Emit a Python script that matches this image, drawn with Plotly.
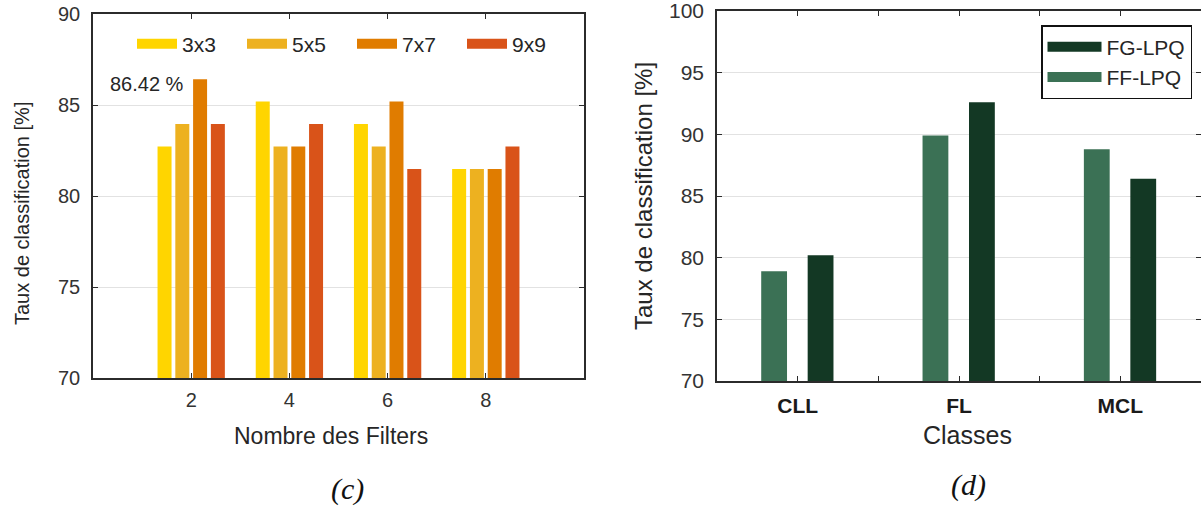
import plotly.graph_objects as go

# ---- data -------------------------------------------------------------
filters = [2, 4, 6, 8]
kernel_names = ["3x3", "5x5", "7x7", "9x9"]
rate_3x3 = [82.72, 85.19, 83.95, 81.48]
rate_5x5 = [83.95, 82.72, 82.72, 81.48]
rate_7x7 = [86.42, 82.72, 85.19, 81.48]
rate_9x9 = [83.95, 83.95, 81.48, 82.72]
best_rate = 86.42

classes = ["CLL", "FL", "MCL"]
class_pos = [1, 2, 3]
rate_ff_lpq = [78.9, 89.9, 88.8]
rate_fg_lpq = [80.2, 92.6, 86.4]

# ---- styling ----------------------------------------------------------
W, H = 1201, 506
FONT = "Liberation Sans"
TXT = "#262626"
AX = "#2b2b2b"
GRID = "#e2e2e2"
kernel_colors = ["#FFD500", "#EDB120", "#E07C00", "#D95319"]
ff_color = "#3B7155"
fg_color = "#133824"

fig = go.Figure()

# left panel: grouped bars placed with explicit offsets
left_series = [rate_3x3, rate_5x5, rate_7x7, rate_9x9]
pitch, bw = 0.362, 0.285
for i, (name, vals, col) in enumerate(zip(kernel_names, left_series, kernel_colors)):
    fig.add_trace(go.Bar(
        x=filters, y=vals, name=name, marker=dict(color=col, line=dict(width=0)),
        width=bw, offset=(i - 1.5) * pitch - bw / 2,
        xaxis="x", yaxis="y", showlegend=False,
    ))
    # legend entry drawn as a thick line swatch
    fig.add_trace(go.Scatter(
        x=[None], y=[None], mode="lines", name=name,
        line=dict(color=col, width=10),
        xaxis="x", yaxis="y", legend="legend",
    ))

# right panel: two bars per class
bw2 = 0.16
fig.add_trace(go.Bar(
    x=class_pos, y=rate_ff_lpq, name="FF-LPQ", marker=dict(color=ff_color, line=dict(width=0)),
    width=bw2, offset=-0.146 - bw2 / 2, xaxis="x2", yaxis="y2", showlegend=False,
))
fig.add_trace(go.Bar(
    x=class_pos, y=rate_fg_lpq, name="FG-LPQ", marker=dict(color=fg_color, line=dict(width=0)),
    width=bw2, offset=0.142 - bw2 / 2, xaxis="x2", yaxis="y2", showlegend=False,
))
for name, col, grp in [("FG-LPQ", fg_color, "a"), ("FF-LPQ", ff_color, "b")]:
    fig.add_trace(go.Scatter(
        x=[None], y=[None], mode="lines", name=name, legendgroup=grp,
        line=dict(color=col, width=12),
        xaxis="x2", yaxis="y2", legend="legend2",
    ))

axis_common = dict(
    showline=True, linecolor=AX, linewidth=1.5, mirror="ticks",
    ticks="inside", ticklen=5, tickcolor=AX, tickwidth=1,
    tickfont=dict(family=FONT, size=20, color="#333333"),
    zeroline=False, automargin=False, ticklabeloverflow="allow",
)

fig.update_layout(
    width=W, height=H, margin=dict(l=0, r=0, t=0, b=0),
    paper_bgcolor="white", plot_bgcolor="white",
    barmode="overlay",
    font=dict(family=FONT, color=TXT),
    xaxis=dict(domain=[93 / W, 584 / W], range=[0, 10], tickvals=filters,
               showgrid=False, anchor="y", ticklabelstandoff=3, **axis_common),
    yaxis=dict(domain=[(H - 378) / H, (H - 14) / H], range=[70, 90],
               tickvals=[70, 75, 80, 85, 90], showgrid=True, gridcolor=GRID, gridwidth=1,
               anchor="x", ticklabelstandoff=7, **axis_common),
    xaxis2=dict(domain=[717 / W, 1.0], range=[0.5, 3.5],
                tickvals=[0.5, 1, 1.5, 2, 2.5, 3, 3.5],
                ticktext=["", "<b>CLL</b>", "", "<b>FL</b>", "", "<b>MCL</b>", ""],
                showgrid=False, anchor="y2", ticklabelstandoff=5,
                **{**axis_common, "tickfont": dict(family=FONT, size=21, color="#1a1a1a")}),
    yaxis2=dict(domain=[(H - 381) / H, (H - 11) / H], range=[70, 100],
                tickvals=[70, 75, 80, 85, 90, 95, 100], showgrid=True, gridcolor=GRID,
                gridwidth=1, anchor="x2", ticklabelstandoff=7,
                **{**axis_common, "tickfont": dict(family=FONT, size=21, color="#333333")}),
    legend=dict(orientation="h", x=132 / W, y=1 - 44 / H, xanchor="left", yanchor="middle",
                bgcolor="rgba(0,0,0,0)", borderwidth=0,
                font=dict(family=FONT, size=21, color=TXT),
                entrywidth=55, entrywidthmode="pixels", itemwidth=40),
    legend2=dict(x=1041 / W, y=1 - 25 / H, xanchor="left", yanchor="top",
                 bgcolor="white", bordercolor="#111111", borderwidth=1.5,
                 font=dict(family=FONT, size=21, color=TXT),
                 tracegroupgap=0, itemwidth=54),
)

center = dict(xanchor="center", yanchor="middle", showarrow=False)
annotations = [
    # value label for the best configuration
    dict(x=2, y=best_rate, xref="x", yref="y", text=f"{best_rate:.2f} %",
         xanchor="right", yanchor="top", xshift=-5, yshift=8, showarrow=False,
         font=dict(family=FONT, size=20, color=TXT)),
    # axis titles
    dict(x=22 / W, y=1 - 214 / H, xref="paper", yref="paper",
         text="Taux de classification [%]", textangle=-90,
         font=dict(family=FONT, size=20, color=TXT), **center),
    dict(x=331 / W, y=1 - 436 / H, xref="paper", yref="paper",
         text="Nombre des Filters",
         font=dict(family=FONT, size=23, color=TXT), **center),
    dict(x=643 / W, y=1 - 196 / H, xref="paper", yref="paper",
         text="Taux de classification [%]", textangle=-90,
         font=dict(family=FONT, size=24, color=TXT), **center),
    dict(x=967 / W, y=1 - 435 / H, xref="paper", yref="paper",
         text="Classes",
         font=dict(family=FONT, size=25, color=TXT), **center),
    # panel captions
    dict(x=347 / W, y=1 - 489 / H, xref="paper", yref="paper",
         text="<i>(c)</i>",
         font=dict(family="Liberation Serif", size=30, color="#111111"), **center),
    dict(x=968 / W, y=1 - 485 / H, xref="paper", yref="paper",
         text="<i>(d)</i>",
         font=dict(family="Liberation Serif", size=30, color="#111111"), **center),
]
fig.update_layout(annotations=annotations)

fig.write_html("out.html")
